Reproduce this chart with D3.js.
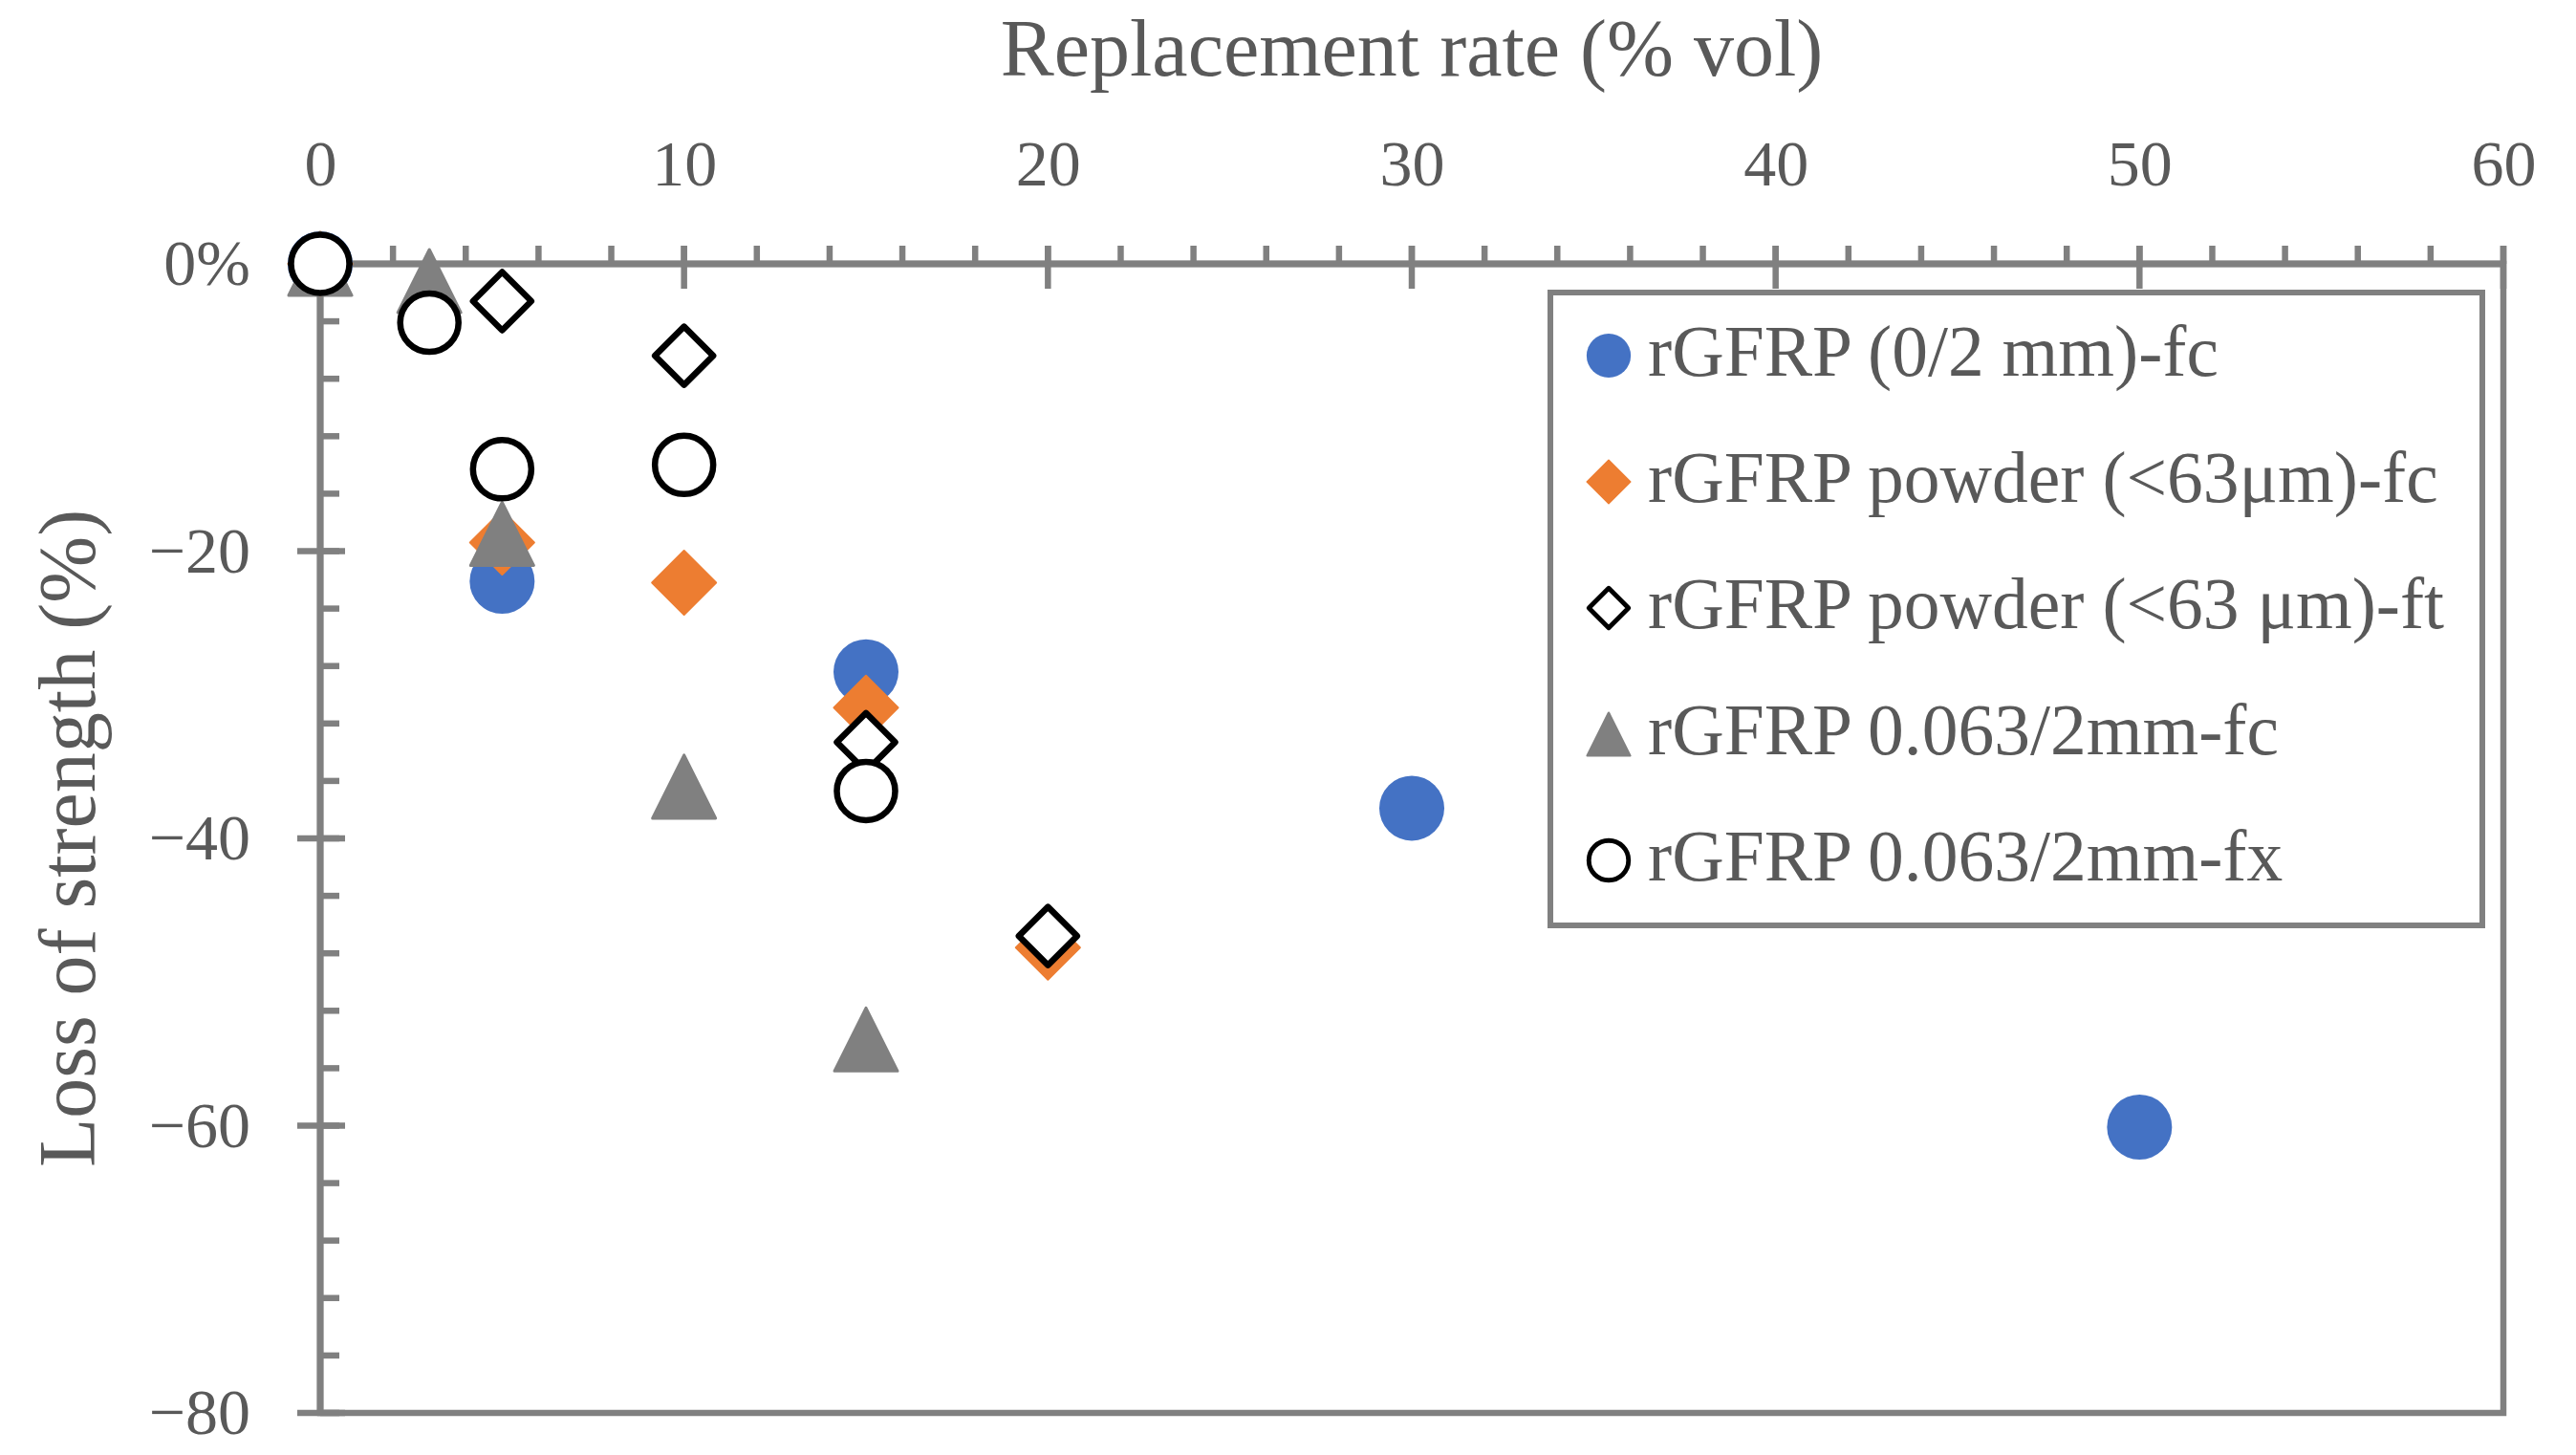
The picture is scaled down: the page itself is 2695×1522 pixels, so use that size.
<!DOCTYPE html>
<html>
<head>
<meta charset="utf-8">
<script src="https://cdn.jsdelivr.net/npm/d3@7/dist/d3.min.js"></script>
<style>
  html, body { margin: 0; padding: 0; background: #ffffff; }
  svg { display: block; }
</style>
</head>
<body>
<div id="chart"></div>
<script>
// ---------------- data ----------------
const seriesNames = [
  "rGFRP (0/2 mm)-fc",
  "rGFRP powder (<63μm)-fc",
  "rGFRP powder (<63 μm)-ft",
  "rGFRP 0.063/2mm-fc",
  "rGFRP 0.063/2mm-fx"
];
const xBlueCircle = [0, 5, 15, 30, 50];
const yBlueCircle = [0, -22.1, -28.4, -37.9, -60.1];
const xOrangeDiamond = [0, 5, 10, 15, 20];
const yOrangeDiamond = [0, -19.4, -22.2, -30.9, -47.6];
const xOpenDiamond = [0, 5, 10, 15, 20];
const yOpenDiamond = [0, -2.6, -6.4, -33.3, -46.8];
const xGrayTriangle = [0, 3, 5, 10, 15];
const yGrayTriangle = [0, -1.2, -18.8, -36.4, -54.0];
const xOpenCircle = [0, 3, 5, 10, 15];
const yOpenCircle = [0, -4.1, -14.3, -14.0, -36.7];

const xMajorTicks = [0, 10, 20, 30, 40, 50, 60];
const xMinorTicks = d3.range(0, 61, 2);
const yMajorTicks = [0, -20, -40, -60, -80];
const yMinorTicks = d3.range(0, -81, -4);
const xTitle = "Replacement rate (% vol)";
const yTitle = "Loss of strength (%)";

// ---------------- setup ----------------
const W = 2695, H = 1522;
const FONT = "'Liberation Serif', 'Times New Roman', serif";
const TEXT = "#595959";
const AXIS = "#808080";

const svg = d3.select("#chart").append("svg")
  .attr("width", W).attr("height", H).attr("viewBox", `0 0 ${W} ${H}`);
svg.append("rect").attr("width", W).attr("height", H).attr("fill", "#fff");

const x = d3.scaleLinear().domain([0, 60]).range([335, 2619]);
const y = d3.scaleLinear().domain([0, -80]).range([276, 1478]);

// marker shape generators (relative to centre)
function circlePath(r) { return d3.arc()({innerRadius: 0, outerRadius: r, startAngle: 0, endAngle: 2 * Math.PI}); }
function diamondPath(h) { return `M0,${-h}L${h},0L0,${h}L${-h},0Z`; }
function trianglePath(h) { return `M0,${-h}L${h},${h}L${-h},${h}Z`; }

const styles = [
  {shape: "circle", fill: "#4472C4", stroke: "none", sw: 0, size: 34},
  {shape: "diamond", fill: "#ED7D31", stroke: "#ED7D31", sw: 2, size: 33.5},
  {shape: "diamond", fill: "#ffffff", stroke: "#000000", sw: 6.5, size: 30.5},
  {shape: "triangle", fill: "#808080", stroke: "#808080", sw: 3, size: 33},
  {shape: "circle", fill: "#ffffff", stroke: "#000000", sw: 6.5, size: 30.5}
];
function shapePath(st, scale) {
  const s = st.size * scale;
  if (st.shape === "circle") return circlePath(s);
  if (st.shape === "diamond") return diamondPath(s);
  return trianglePath(s);
}

// ---------------- plot area border ----------------
svg.append("rect")
  .attr("x", x(0)).attr("y", y(0))
  .attr("width", x(60) - x(0)).attr("height", y(-80) - y(0))
  .attr("fill", "none").attr("stroke", AXIS).attr("stroke-width", 6.5);

// ---------------- axes ----------------
const gx = svg.append("g").attr("transform", `translate(0,${y(0)})`);
gx.call(d3.axisTop(x).tickValues(xMajorTicks).tickSize(0).tickPadding(82).tickFormat(d3.format("d")));
gx.select(".domain").remove();
gx.selectAll("text").attr("font-family", FONT).attr("font-size", 68).attr("fill", TEXT);

const gy = svg.append("g").attr("transform", `translate(${x(0)},0)`);
gy.call(d3.axisLeft(y).tickValues(yMajorTicks).tickSize(0).tickPadding(73)
  .tickFormat(d => d === 0 ? "0%" : d3.format("d")(d)));
gy.select(".domain").remove();
gy.selectAll("text").attr("font-family", FONT).attr("font-size", 68).attr("fill", TEXT);

// axis lines
svg.append("line").attr("x1", x(0)).attr("x2", x(60)).attr("y1", y(0)).attr("y2", y(0))
  .attr("stroke", AXIS).attr("stroke-width", 7);
svg.append("line").attr("x1", x(0)).attr("x2", x(0)).attr("y1", y(0)).attr("y2", y(-80))
  .attr("stroke", AXIS).attr("stroke-width", 7);

// x ticks
svg.append("g").selectAll("line").data(xMinorTicks).join("line")
  .attr("x1", d => x(d)).attr("x2", d => x(d))
  .attr("y1", y(0) - 19).attr("y2", y(0))
  .attr("stroke", AXIS).attr("stroke-width", 6.5);
svg.append("g").selectAll("line").data(xMajorTicks).join("line")
  .attr("x1", d => x(d)).attr("x2", d => x(d))
  .attr("y1", y(0) - 19).attr("y2", y(0) + 26)
  .attr("stroke", AXIS).attr("stroke-width", 6.5);
// y ticks
svg.append("g").selectAll("line").data(yMinorTicks).join("line")
  .attr("x1", x(0)).attr("x2", x(0) + 20)
  .attr("y1", d => y(d)).attr("y2", d => y(d))
  .attr("stroke", AXIS).attr("stroke-width", 6.5);
svg.append("g").selectAll("line").data(yMajorTicks).join("line")
  .attr("x1", x(0) - 24).attr("x2", x(0) + 26)
  .attr("y1", d => y(d)).attr("y2", d => y(d))
  .attr("stroke", AXIS).attr("stroke-width", 6.5);

// ---------------- titles ----------------
svg.append("text").attr("x", (x(0) + x(60)) / 2).attr("y", 79)
  .attr("text-anchor", "middle").attr("font-family", FONT).attr("font-size", 84)
  .attr("fill", TEXT).text(xTitle);
svg.append("text").attr("transform", `translate(99,${(y(0) + y(-80)) / 2 - 0}) rotate(-90)`)
  .attr("text-anchor", "middle").attr("font-family", FONT).attr("font-size", 84)
  .attr("fill", TEXT).text(yTitle);

// ---------------- data points ----------------
const seriesData = [
  d3.zip(xBlueCircle, yBlueCircle),
  d3.zip(xOrangeDiamond, yOrangeDiamond),
  d3.zip(xOpenDiamond, yOpenDiamond),
  d3.zip(xGrayTriangle, yGrayTriangle),
  d3.zip(xOpenCircle, yOpenCircle)
];
seriesData.forEach((pts, i) => {
  const st = styles[i];
  svg.append("g").selectAll("path").data(pts).join("path")
    .attr("transform", d => `translate(${x(d[0])},${y(d[1])})`)
    .attr("d", shapePath(st, 1))
    .attr("fill", st.fill)
    .attr("stroke", st.stroke)
    .attr("stroke-width", st.sw)
    .attr("stroke-linejoin", "round");
});

// ---------------- legend ----------------
const legend = svg.append("g");
legend.append("rect").attr("x", 1622).attr("y", 306).attr("width", 975).attr("height", 662)
  .attr("fill", "#fff").attr("stroke", AXIS).attr("stroke-width", 6);
const rowY = d3.scalePoint().domain(d3.range(seriesNames.length)).range([372, 900]);
seriesNames.forEach((name, i) => {
  const st = styles[i];
  legend.append("path")
    .attr("transform", `translate(1683,${rowY(i)})`)
    .attr("d", shapePath(st, 0.68))
    .attr("fill", st.fill).attr("stroke", st.stroke)
    .attr("stroke-width", st.sw * 0.75).attr("stroke-linejoin", "round");
  legend.append("text").attr("x", 1724).attr("y", rowY(i) + 21)
    .attr("font-family", FONT).attr("font-size", 75.5).attr("fill", TEXT).text(name);
});
</script>
</body>
</html>
